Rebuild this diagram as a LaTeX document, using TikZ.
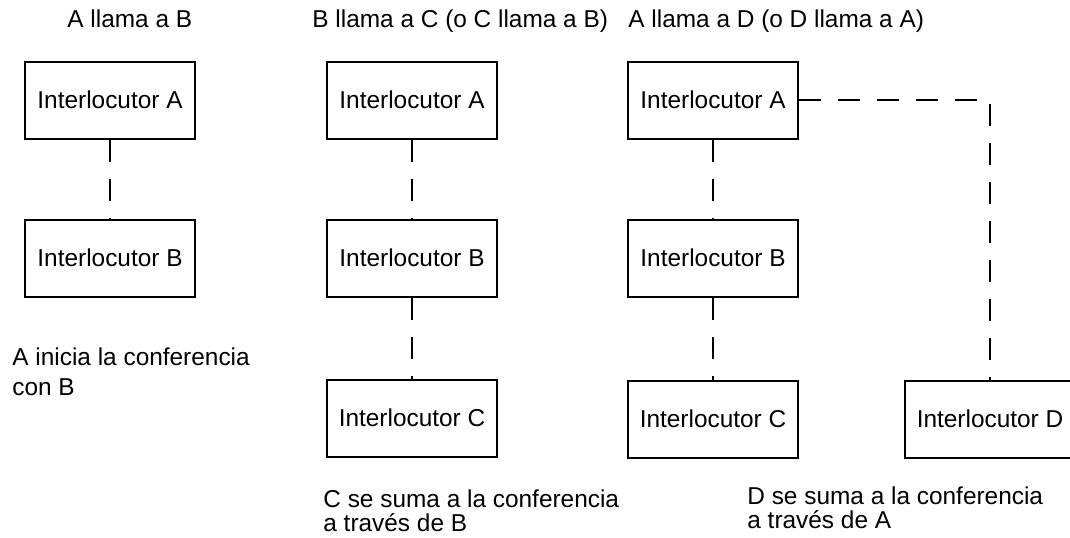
\documentclass[tikz,border=0pt]{standalone}
\usepackage{fontspec}
\setmainfont{Liberation Sans}
\usetikzlibrary{positioning}

\begin{document}
\begin{tikzpicture}[
          x=0.5pt,y=-0.5pt,
          node distance=39.5pt and 65pt,
          every node/.style={font=\fontsize{12.2pt}{15pt}\selectfont},
          party/.style={draw,line width=1pt,minimum width=85pt,minimum height=38.5pt,inner sep=0pt},
          note/.style={anchor=base west,inner sep=0pt,align=left},
          tight/.style={font=\fontsize{12.2pt}{11.7pt}\selectfont},
          link/.style={line width=1pt,dash pattern=on 11pt off 8.5pt}
            ]
    \useasboundingbox (0,0) rectangle (1070,537);
    % A llama a B
    \node[note] (t1) at (67,27) {A llama a B};
    \node[party] (a1) at (110,100) {Interlocutor A};
    \node[party,below=of a1] (b1) {Interlocutor B};
    \node[note] (n1) at (12,395) {A inicia la conferencia\\con B};
    \path (a1) edge[link] (b1);
    % B llama a C
    \node[note] (t2) at (312,27) {B llama a C (o C llama a B)};
    \node[party,right=of a1] (a2) {Interlocutor A};
    \node[party,below=of a2] (b2) {Interlocutor B};
    \node[party,below=40.5pt of b2] (c2) {Interlocutor C};
    \node[note,tight] (n2) at (323,531) {C se suma a la conferencia\\a trav\'es de B};
    \path (a2) edge[link] (b2)
    (b2) edge[link] (c2);
    % A llama a D
    \node[note] (t3) at (628,27) {A llama a D (o D llama a A)};
    \node[party,right=64.5pt of a2] (a3) {Interlocutor A};
    \node[party,below=of a3] (b3) {Interlocutor B};
    \node[party,below=41pt of b3] (c3) {Interlocutor C};
    \node[party,right=52.5pt of c3] (d) {Interlocutor D};
    \node[note,tight] (n3) at (747,528) {D se suma a la conferencia\\a trav\'es de A};
    \path (a3) edge[link] (b3)
    (b3) edge[link] (c3);
    \draw[link] (a3) -| (d);
\end{tikzpicture}
\end{document}
